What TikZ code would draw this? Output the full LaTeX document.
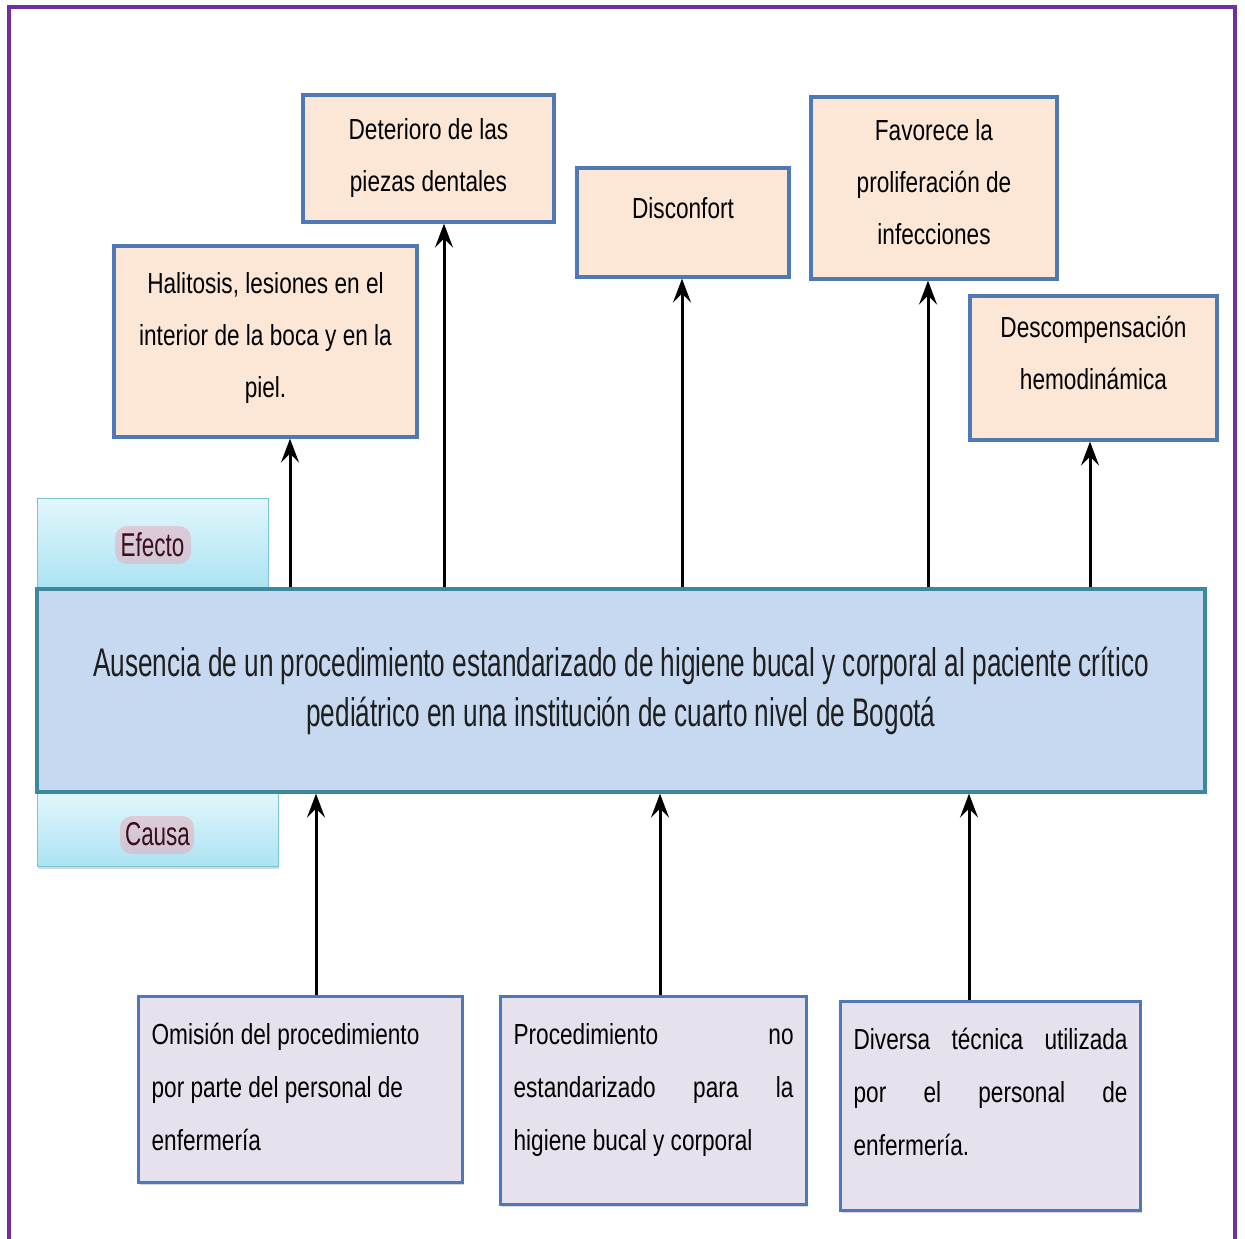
\documentclass[tikz,border=0pt]{standalone}
\usepackage{fontspec}
\setmainfont{Liberation Sans}
\newfontfamily\boxfont[FakeStretch=0.78]{Liberation Sans}
\newfontfamily\probfont[FakeStretch=0.655]{Liberation Sans}
\newfontfamily\tagfont[FakeStretch=0.68]{Liberation Sans}
\usetikzlibrary{arrows.meta,shadows}

\definecolor{framepurple}{HTML}{7030A0}
\definecolor{bordblue}{HTML}{4F79B5}
\definecolor{peach}{HTML}{FCE6D6}
\definecolor{lavender}{HTML}{E6E1EC}
\definecolor{probfill}{HTML}{C6D9F0}
\definecolor{probedge}{HTML}{3A8A9C}
\definecolor{tagtop}{HTML}{E2F7FC}
\definecolor{tagbot}{HTML}{ABE3F3}
\definecolor{tagedge}{HTML}{7CC3D6}
\definecolor{tagtext}{HTML}{3A0E1C}
\definecolor{tagglow}{HTML}{E9A7B6}

% text block of a cause box: top aligned, first baseline 48pt below the top
\newcommand{\causetext}[3]{\parbox[c][#2][t]{#1}{\rule{0pt}{48pt}#3}}
\newcommand{\jline}[1]{\makebox[\linewidth][s]{#1}}

\tikzset{
  effectbox/.style={draw=bordblue, line width=3.2pt, fill=peach, align=center,
    inner sep=0pt, font=\boxfont\fontsize{29}{52}\selectfont,
    drop shadow={shadow xshift=1.5pt, shadow yshift=-2pt, opacity=0.3}},
  causebox/.style={draw=bordblue, line width=3.2pt, fill=lavender,
    inner xsep=13pt, inner ysep=0pt, anchor=north west,
    font=\boxfont\fontsize{29}{53}\selectfont,
    drop shadow={shadow xshift=1.5pt, shadow yshift=-2pt, opacity=0.3}},
  problembox/.style={draw=probedge, line width=3.2pt, fill=probfill, align=center,
    inner sep=0pt, font=\probfont\fontsize{40}{50}\selectfont, text=black!88},
  tagbox/.style={draw=tagedge, line width=1pt, top color=tagtop, bottom color=tagbot,
    inner sep=0pt, drop shadow={shadow xshift=1pt, shadow yshift=-2.5pt, opacity=0.3}},
  tagtxt/.style={font=\tagfont\fontsize{33}{40}\selectfont, text=tagtext, inner sep=0pt},
  glow/.style={fill=tagglow, opacity=0.5, rounded corners=12pt},
  arr/.style={line width=3pt, black, -{Stealth[length=24pt, width=18pt, inset=9pt]}}
}

\begin{document}
\begin{tikzpicture}[x=1pt, y=-1pt]
\useasboundingbox (0,0) rectangle (1245,1239);
\fill[white] (0,0) rectangle (1245,1239);

% purple frame, open at the bottom
\draw[framepurple, line width=4pt] (9,1245) -- (9,7) -- (1235,7) -- (1235,1245);

% effects
\node[effectbox, minimum width=303pt, minimum height=191pt, text depth=14pt] (halitosis) at (265.5,341.5)
  {Halitosis, lesiones en el\\interior de la boca y en la\\piel.};
\node[effectbox, minimum width=251pt, minimum height=127pt] (deterioro) at (428.5,158.5)
  {Deterioro de las\\piezas dentales};
\node[effectbox, minimum width=212pt, minimum height=109pt, text depth=30pt] (disconfort) at (683,222.5)
  {Disconfort};
\node[effectbox, minimum width=246pt, minimum height=182pt, text depth=12pt] (infecciones) at (934,188)
  {Favorece la\\proliferación de\\infecciones};
\node[effectbox, minimum width=247pt, minimum height=144pt, text depth=30pt] (hemo) at (1093.5,368)
  {Descompensación\\hemodinámica};

% side tags with their glowing labels
\node[tagbox, minimum width=231pt, minimum height=90pt] (efecto) at (152.5,543) {};
\fill[glow] (115,526) rectangle (191,564);
\node[tagtxt] (efectotxt) at ([yshift=-2pt]efecto.center) {Efecto};
\node[tagbox, minimum width=241pt, minimum height=73pt] (causa) at (157.5,829.5) {};
\fill[glow] (120,816) rectangle (194,854);
\node[tagtxt] (causatxt) at ([yshift=-5pt]causa.center) {Causa};

% central problem
\node[problembox, minimum width=1168pt, minimum height=203pt] (problema) at (621,690.5)
  {Ausencia de un procedimiento estandarizado de higiene bucal y corporal al paciente crítico\\
   pediátrico en una institución de cuarto nivel de Bogotá};

% causes
\node[causebox] (omision) at (137,995)
  {\causetext{298pt}{186pt}{Omisión del procedimiento\\por parte del personal de\\enfermería}};
\node[causebox] (noestandar) at (499,995)
  {\causetext{280pt}{208pt}{\jline{Procedimiento no}\\\jline{estandarizado para la}\\higiene bucal y corporal}};
\node[causebox] (diversa) at (839,1000)
  {\causetext{274pt}{209pt}{\jline{Diversa técnica utilizada}\\\jline{por el personal de}\\enfermería.}};

% problem -> effects
\draw[arr] (problema.north -| 290,0) -- (halitosis.south -| 290,0);
\draw[arr] (problema.north -| 444,0) -- (deterioro.south -| 444,0);
\draw[arr] (problema.north -| 682,0) -- (disconfort.south -| 682,0);
\draw[arr] (problema.north -| 928,0) -- (infecciones.south -| 928,0);
\draw[arr] (problema.north -| 1090,0) -- (hemo.south -| 1090,0);

% causes -> problem
\draw[arr] (omision.north -| 316,0) -- (problema.south -| 316,0);
\draw[arr] (noestandar.north -| 660,0) -- (problema.south -| 660,0);
\draw[arr] (diversa.north -| 969,0) -- (problema.south -| 969,0);
\end{tikzpicture}
\end{document}
